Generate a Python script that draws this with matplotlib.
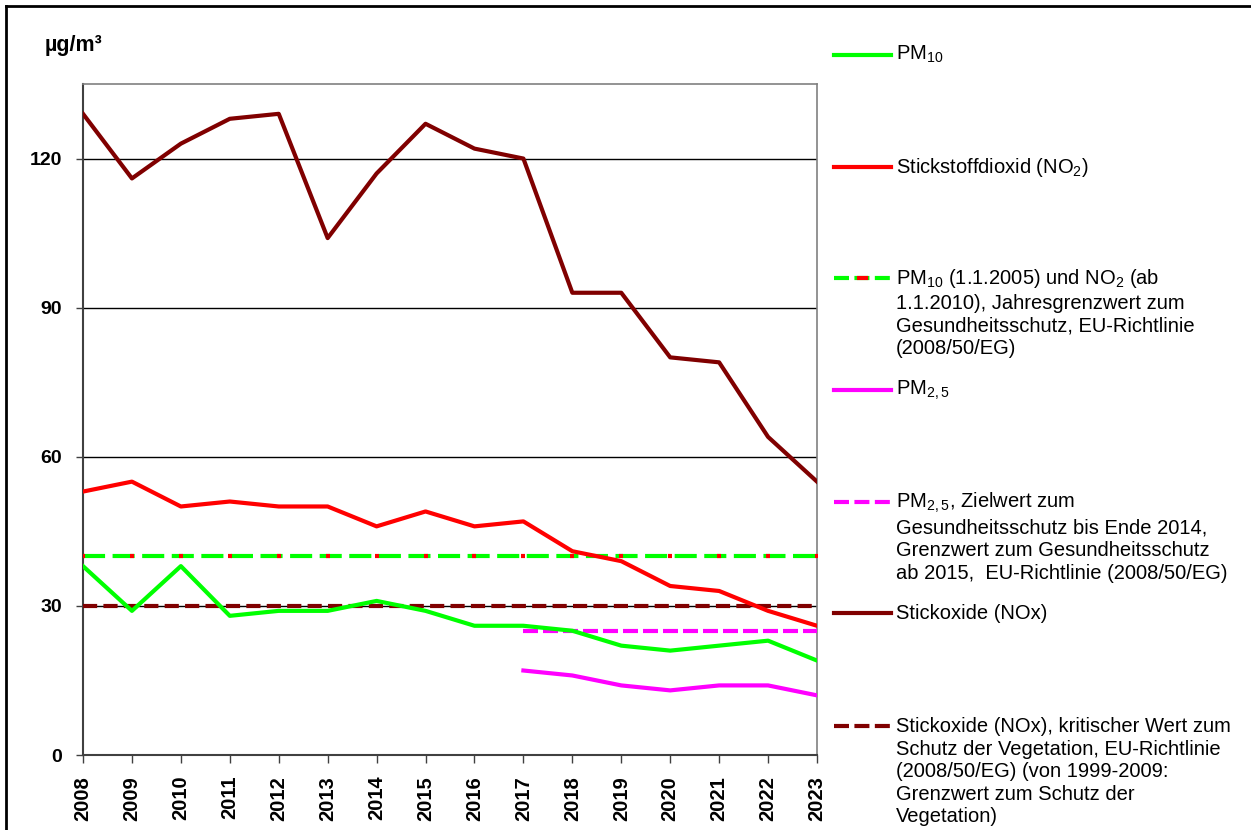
import matplotlib.pyplot as plt
from matplotlib.lines import Line2D

plt.rcParams['font.family'] = ['Liberation Sans', 'DejaVu Sans']
plt.rcParams['mathtext.fontset'] = 'custom'
plt.rcParams['mathtext.rm'] = 'Liberation Sans'

# Daten (Jahresmittelwerte in µg/m³)
years = list(range(2008, 2024))
nox = [129, 116, 123, 128, 129, 104, 117, 127, 122, 120, 93, 93, 80, 79, 64, 55]
no2 = [53, 55, 50, 51, 50, 50, 46, 49, 46, 47, 41, 39, 34, 33, 29, 26]
pm10 = [38, 29, 38, 28, 29, 29, 31, 29, 26, 26, 25, 22, 21, 22, 23, 19]
pm25_years = list(range(2017, 2024))
pm25 = [17, 16, 14, 13, 14, 14, 12]

limit_pm10_no2 = 40
limit_pm25 = 25
limit_nox_veg = 30

W, H = 1251, 830
fig = plt.figure(figsize=(W / 100, H / 100), dpi=100)

def fx(x):
    return x / W

def fy(y):
    return 1 - y / H

ax = fig.add_axes([fx(83), fy(755), fx(817) - fx(83), fy(84) - fy(755)])

GREEN = '#00ff00'
RED = '#ff0000'
MAG = '#ff00ff'
DRED = '#800000'

ax.set_xlim(2008, 2023)
ax.set_ylim(0, 135)
ax.set_yticks([0, 30, 60, 90, 120])
ax.set_xticks(years)
ax.grid(axis='y', color='black', lw=1)
ax.set_axisbelow(True)

# Grenzwerte
ax.plot(years, [limit_nox_veg] * len(years), color=DRED, lw=3, ls=(0, (3.4, 1.5)), zorder=3)
ax.plot(years, [limit_pm10_no2] * len(years), color=GREEN, lw=3, ls=(0, (5.3, 1.8)), zorder=3)
ax.plot(years, [limit_pm10_no2] * len(years), color=RED, ls='none', marker='_', ms=3.5, mew=3, zorder=3)
ax.plot(pm25_years, [limit_pm25] * len(pm25_years), color=MAG, lw=3, ls=(0, (3.6, 1.2)), zorder=3)

# Messwerte
ax.plot(years, pm10, color=GREEN, lw=3, zorder=4)
ax.plot(pm25_years, pm25, color=MAG, lw=3, zorder=4)
ax.plot(years, no2, color=RED, lw=3, zorder=4)
ax.plot(years, nox, color=DRED, lw=3, zorder=4)

for s in ['left', 'bottom']:
    ax.spines[s].set_color('#404040')
    ax.spines[s].set_linewidth(1.5)
for s in ['top', 'right']:
    ax.spines[s].set_color('#808080')
    ax.spines[s].set_linewidth(1.2)

ax.tick_params(axis='y', direction='out', length=5, width=1, color='#404040', pad=10, labelsize=14)
ax.tick_params(axis='x', direction='out', length=6, width=1, color='#404040', pad=9, labelsize=14.5, rotation=90)
for lab in ax.get_xticklabels() + ax.get_yticklabels():
    lab.set_fontweight('bold')

fig.text(fx(45), fy(46), 'µg/m³', fontsize=15.5, fontweight='bold', va='center', ha='left')

# Legende
entries = [
    (55, GREEN, '-', None, r'PM$_\mathregular{10}$'),
    (167, RED, '-', None, r'Stickstoffdioxid (NO$_\mathregular{2}$)'),
    (278, GREEN, (0, (3.6, 1.3)), RED,
     'PM$_\\mathregular{10}$ (1.1.2005) und NO$_\\mathregular{2}$ (ab\n1.1.2010), Jahresgrenzwert zum\n'
     'Gesundheitsschutz, EU-Richtlinie\n(2008/50/EG)'),
    (390, MAG, '-', None, r'PM$_\mathregular{2,5}$'),
    (502, MAG, (0, (3.6, 1.3)), None,
     'PM$_\\mathregular{2,5}$, Zielwert zum\nGesundheitsschutz bis Ende 2014,\n'
     'Grenzwert zum Gesundheitsschutz\nab 2015,  EU-Richtlinie (2008/50/EG)'),
    (613, DRED, '-', None, 'Stickoxide (NOx)'),
    (726, DRED, (0, (3.6, 1.3)), None,
     'Stickoxide (NOx), kritischer Wert zum\nSchutz der Vegetation, EU-Richtlinie\n'
     '(2008/50/EG) (von 1999-2009:\nGrenzwert zum Schutz der\nVegetation)'),
]
for y, col, ls, extra, label in entries:
    fig.add_artist(Line2D([fx(834), fx(891)], [fy(y), fy(y)], color=col, lw=3, ls=ls))
    if extra:
        fig.add_artist(Line2D([fx(859), fx(866)], [fy(y), fy(y)], color=extra, lw=3))
    off = 11 if '$' in label.split('\n')[0] else 9
    fig.text(fx(896), fy(y - off), label, fontsize=14.5, va='top', ha='left', linespacing=1.24)

# Rahmen
fig.add_artist(Line2D([fx(6), fx(6)], [fy(6), 0], color='black', lw=2))
fig.add_artist(Line2D([fx(6), 1], [fy(6), fy(6)], color='black', lw=2))

fig.savefig('out.png', dpi=100, facecolor='white')
